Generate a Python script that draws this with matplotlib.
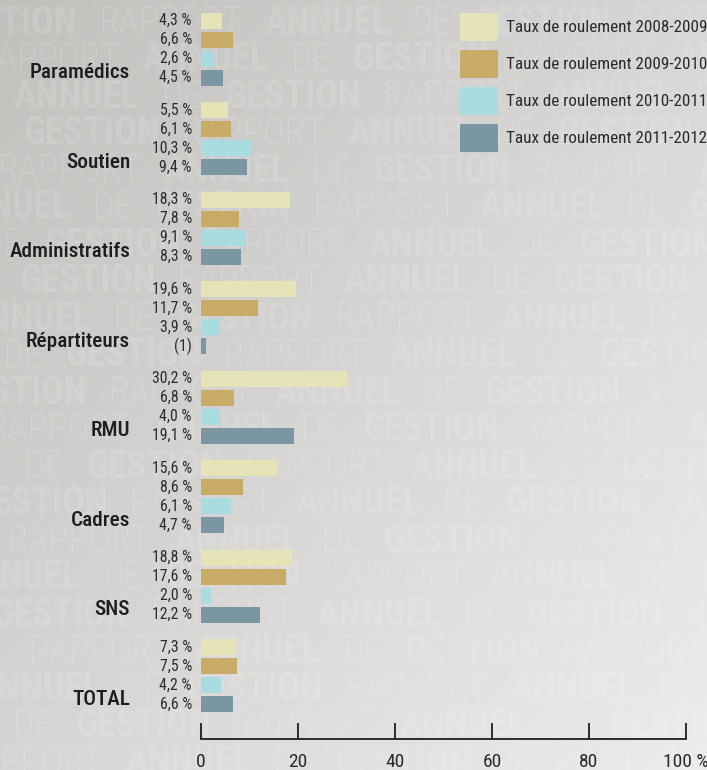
import numpy as np
import matplotlib
matplotlib.use("Agg")
import matplotlib.pyplot as plt
from matplotlib.patches import Patch

categories = ["Paramédics", "Soutien", "Administratifs", "Répartiteurs",
              "RMU", "Cadres", "SNS", "TOTAL"]
series_names = ["Taux de roulement 2008-2009", "Taux de roulement 2009-2010",
                "Taux de roulement 2010-2011", "Taux de roulement 2011-2012"]
t_0809 = [4.3, 5.5, 18.3, 19.6, 30.2, 15.6, 18.8, 7.3]
t_0910 = [6.6, 6.1, 7.8, 11.7, 6.8, 8.6, 17.6, 7.5]
t_1011 = [2.6, 10.3, 9.1, 3.9, 4.0, 6.1, 2.0, 4.2]
t_1112 = [4.5, 9.4, 8.3, 1.0, 19.1, 4.7, 12.2, 6.6]
# note (1) instead of a value for Répartiteurs 2011-2012
notes = {(3, 3): "(1)"}
xticks = [0, 20, 40, 60, 80, 100]
xticklabels = ["0", "20", "40", "60", "80", "100 %"]

colors = ["#e6e3b7", "#c9ab68", "#a9dce0", "#7a96a3"]
series = [t_0809, t_0910, t_1011, t_1112]

COND = ["Roboto Condensed", "DejaVu Sans"]
TXT = "#2b2b2b"

W, H = 707, 770
fig = plt.figure(figsize=(W / 100, H / 100), dpi=100)

# background gradient
bg = fig.add_axes([0, 0, 1, 1], zorder=-10)
yy, xx = np.mgrid[0:1:200j, 0:1:200j]
tl, tr = np.array([193, 192, 189]), np.array([216, 215, 213])
bl, br = np.array([214, 213, 211]), np.array([237, 236, 235])
img = (tl * ((1 - xx) * (1 - yy))[..., None] + tr * (xx * (1 - yy))[..., None]
       + bl * ((1 - xx) * yy)[..., None] + br * (xx * yy)[..., None]) / 255
bg.imshow(img, extent=[0, W, H, 0], aspect="auto")
bg.set_xlim(0, W)
bg.set_ylim(H, 0)
bg.axis("off")

# watermark "RAPPORT ANNUEL DE GESTION"
words = [("RAPPORT", 300), ("ANNUEL", 700), ("DE", 300), ("GESTION", 700)]
renderer = fig.canvas.get_renderer()
widths = []
for w, wt in words:
    t = bg.text(0, 0, w, family=COND, weight=wt, fontsize=27)
    widths.append(t.get_window_extent(renderer).width)
    t.remove()
gap = 22
shifts = [3, 0, 1, 2]
for row in range(22):
    y = 23 + 37 * row
    k = (shifts[row % 4] + row // 4) % 4
    x = -60 + (row * 37) % 90
    while x < W:
        w, wt = words[k]
        bg.text(x, y, w, family=COND, weight=wt, fontsize=27, color="white",
                alpha=0.12, va="center", ha="left")
        x += widths[k] + gap
        k = (k + 1) % 4

# main axes
y_bottom = 739
ax = fig.add_axes([201 / W, 1 - y_bottom / H, 485 / W, y_bottom / H])
ax.patch.set_alpha(0)
unit = 19.0
group_step = 89.5 / unit
first = 20.7 / unit
ax.set_xlim(0, 100)
ax.set_ylim(y_bottom / unit, 0)

for i, (vals, col) in enumerate(zip(series, colors)):
    ys = [first + g * group_step + i for g in range(len(categories))]
    ax.barh(ys, vals, height=0.84, color=col, label=series_names[i])
    for g, (yv, v) in enumerate(zip(ys, vals)):
        lab = notes.get((g, i), f"{v:.1f}".replace(".", ",") + " %")
        ax.annotate(lab, (0, yv), xytext=(-6.5, 0), textcoords="offset points",
                    ha="right", va="center", fontsize=11.3, family=COND,
                    color=TXT, annotation_clip=False)

for g, cat in enumerate(categories):
    yv = first + g * group_step + 3 - 0.25
    ax.annotate(cat, (0, yv), xytext=(-51, 0), textcoords="offset points",
                ha="right", va="center", fontsize=15.3, family=COND,
                weight=500, color="#1e1e1e", annotation_clip=False)

for s in ["top", "right", "left"]:
    ax.spines[s].set_visible(False)
ax.spines["bottom"].set_color("#1e1e1e")
ax.spines["bottom"].set_linewidth(1.3)
ax.set_yticks([])
ax.set_xticks(xticks)
ax.set_xticklabels(xticklabels, family=COND, fontsize=14, color=TXT)
ax.tick_params(axis="x", direction="in", length=11.5, width=1.3,
               color="#1e1e1e", pad=10)

handles = [Patch(facecolor=c, edgecolor="none") for c in colors]
fig.legend(handles, series_names, loc="upper left",
           bbox_to_anchor=(460 / W, 1 - 13 / H), frameon=False,
           prop={"family": COND, "size": 12.3}, labelcolor=TXT,
           borderpad=0, borderaxespad=0, handlelength=2.25, handleheight=2.15,
           labelspacing=0.52, handletextpad=0.45)

fig.savefig("out.png", dpi=100)
